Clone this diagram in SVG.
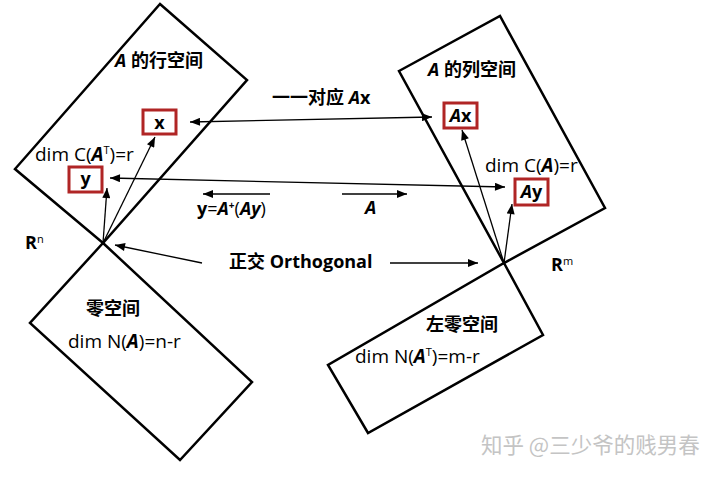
<svg xmlns="http://www.w3.org/2000/svg" width="720" height="480" viewBox="0 0 720 480">
<style>
.sp{fill:none;stroke:#000;stroke-width:2.5;stroke-linejoin:miter}
.bx{fill:#fff;stroke:#b02525;stroke-width:3}
.ar{fill:none;stroke:#000;stroke-width:1.3}
text{font-family:"Open Sans","Noto Sans","Noto Sans CJK SC",sans-serif;fill:#000}
.b{font-weight:bold;font-size:18px}
.r{font-size:19px}
.i{font-style:italic;font-weight:bold}
.wm{font-family:"Noto Sans CJK SC","Noto Sans",sans-serif;font-size:21.5px;fill:#c4c4c4}
</style>
<defs>
<marker id="ah" viewBox="0 0 10 8" refX="10" refY="4" markerWidth="11" markerHeight="8" markerUnits="userSpaceOnUse" orient="auto-start-reverse">
<path d="M0,0 L10,4 L0,8 Z" fill="#000"/>
</marker>
</defs>
<rect width="720" height="480" fill="#fff"/>

<g id="row-space">
<polygon class="sp" points="160,4 247,80 103,243 15,169"/>
<text class="b" x="115" y="67"><tspan class="i">A</tspan> 的行空间</text>
<text class="r" x="35" y="161">dim C(<tspan class="i">A</tspan><tspan font-size="11" dy="-7">T</tspan><tspan dy="7">)=r</tspan></text>
<text class="b" x="25" y="249">R<tspan font-size="11" font-weight="normal" dy="-6">n</tspan></text>
</g>

<g id="null-space">
<polygon class="sp" points="103,243 252,382 180,460 30,323"/>
<text class="b" x="86" y="315">零空间</text>
<text class="r" x="68" y="348">dim N(<tspan class="i">A</tspan>)=n-r</text>
</g>

<g id="col-space">
<polygon class="sp" points="399,71 500,16 605,208 504,263"/>
<text class="b" x="428" y="76"><tspan class="i">A</tspan> 的列空间</text>
<text class="r" x="485" y="172">dim C(<tspan class="i">A</tspan>)=r</text>
<text class="b" x="551" y="271">R<tspan font-size="11" font-weight="normal" dy="-6">m</tspan></text>
</g>

<g id="left-null-space">
<polygon class="sp" points="504,263 543,335 368,433 328,365"/>
<text class="b" x="426" y="331">左零空间</text>
<text class="r" x="355" y="363">dim N(<tspan class="i">A</tspan><tspan font-size="11" dy="-7">T</tspan><tspan dy="7">)=m-r</tspan></text>
</g>

<g id="box-x">
<rect class="bx" x="143" y="110" width="33" height="24"/>
<text class="b" x="159.5" y="129" text-anchor="middle">x</text>
</g>
<g id="box-y">
<rect class="bx" x="69" y="167" width="33" height="25"/>
<text class="b" x="85.5" y="185" text-anchor="middle">y</text>
</g>
<g id="box-Ax">
<rect class="bx" x="444" y="103" width="33" height="25"/>
<text class="b" x="460.5" y="122" text-anchor="middle"><tspan class="i">A</tspan>x</text>
</g>
<g id="box-Ay">
<rect class="bx" x="515" y="179" width="33" height="26"/>
<text class="b" x="531.5" y="198" text-anchor="middle"><tspan class="i">A</tspan>y</text>
</g>

<g id="connectors">
<line class="ar" x1="103" y1="243" x2="155" y2="137" marker-end="url(#ah)"/>
<line class="ar" x1="103" y1="243" x2="107" y2="188" marker-end="url(#ah)"/>
<line class="ar" x1="504" y1="263" x2="462" y2="130" marker-end="url(#ah)"/>
<line class="ar" x1="504" y1="263" x2="512" y2="204" marker-end="url(#ah)"/>
<line class="ar" x1="190" y1="122" x2="432" y2="117" marker-start="url(#ah)" marker-end="url(#ah)"/>
<line class="ar" x1="110" y1="178" x2="505" y2="187" marker-start="url(#ah)" marker-end="url(#ah)"/>
<line class="ar" x1="270" y1="194" x2="203" y2="194" marker-end="url(#ah)"/>
<line class="ar" x1="342" y1="194" x2="407" y2="194" marker-end="url(#ah)"/>
<line class="ar" x1="202" y1="263" x2="115" y2="245" marker-end="url(#ah)"/>
<line class="ar" x1="390" y1="263" x2="478" y2="263" marker-end="url(#ah)"/>
</g>

<g id="labels">
<text class="b" x="272" y="104">一一对应 <tspan class="i">A</tspan>x</text>
<text class="b" x="197" y="215">y<tspan font-weight="normal">=</tspan><tspan class="i">A</tspan><tspan font-size="10" dy="-6">+</tspan><tspan dy="6" font-weight="normal">(</tspan><tspan class="i">Ay</tspan><tspan font-weight="normal">)</tspan></text>
<text class="b" x="365" y="214"><tspan class="i">A</tspan></text>
<text class="b" x="229" y="268">正交  Orthogonal</text>
</g>

<text class="wm" x="481" y="453">知乎 @三少爷的贱男春</text>
</svg>
